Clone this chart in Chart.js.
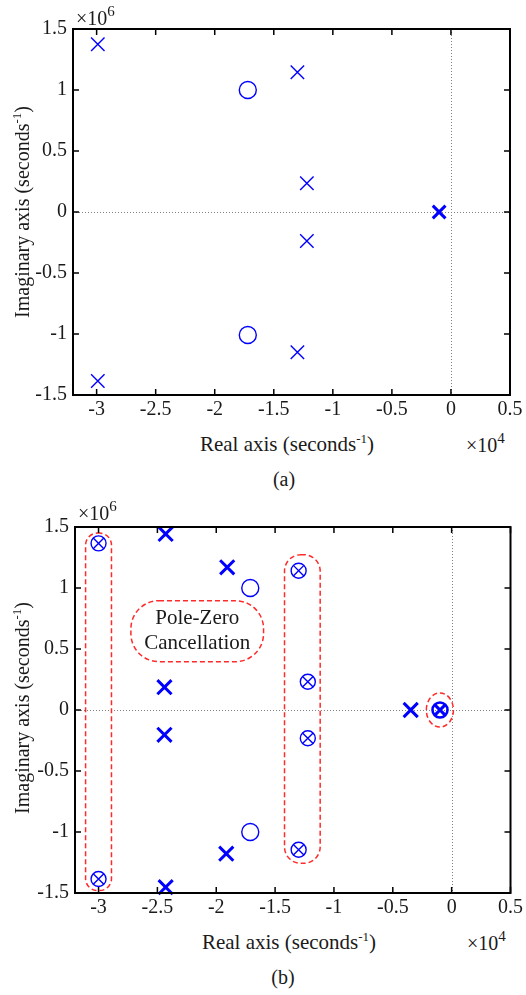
<!DOCTYPE html>
<html>
<head>
<meta charset="utf-8">
<script src="https://cdn.jsdelivr.net/npm/chart.js@4.4.0/dist/chart.umd.min.js"></script>
<style>
  body { margin: 0; background: #fff; width: 526px; height: 995px; position: relative; overflow: hidden;
         font-family: "Liberation Serif", "Times New Roman", serif; color: #1a1a1a; }
  canvas { position: absolute; left: 0; }
  .lbl { position: absolute; font-size: 20px; line-height: 20px; white-space: nowrap; transform: translate(-50%, -50%); }
  .lbl sup { font-size: 13px; vertical-align: 0; position: relative; top: -8px; }
  .xlab { font-size: 21px; }
  .exp { font-size: 20px; transform: none; }
  .exp sup { font-size: 15px; top: -9px; }
  .ylab { transform: translate(-50%, -50%) rotate(-90deg); }
</style>
</head>
<body>
<canvas id="chart-a" width="526" height="430" style="top:0"></canvas>
<canvas id="chart-b" width="526" height="430" style="top:495px"></canvas>

<div class="lbl exp" style="left:76px;top:8px">&times;10<sup>6</sup></div>
<div class="lbl ylab" style="left:23px;top:212px">Imaginary axis (seconds<sup>-1</sup>)</div>
<div class="lbl xlab" style="left:287px;top:445px">Real axis (seconds<sup>-1</sup>)</div>
<div class="lbl exp" style="left:466px;top:435px">&times;10<sup>4</sup></div>
<div class="lbl" style="left:284px;top:479px">(a)</div>

<div class="lbl exp" style="left:78px;top:503px">&times;10<sup>6</sup></div>
<div class="lbl ylab" style="left:23px;top:708px">Imaginary axis (seconds<sup>-1</sup>)</div>
<div class="lbl xlab" style="left:289px;top:943px">Real axis (seconds<sup>-1</sup>)</div>
<div class="lbl exp" style="left:467px;top:933px">&times;10<sup>4</sup></div>
<div class="lbl" style="left:283px;top:977px">(b)</div>

<script>
// x in units of 1e4 s^-1, y in units of 1e6 s^-1
const X_TICKS = [-3, -2.5, -2, -1.5, -1, -0.5, 0, 0.5];
const Y_TICKS = [-1.5, -1, -0.5, 0, 0.5, 1, 1.5];

// ── (a) original system ─────────────────────────────────────────────── //
const polesA = [[-2.99, 1.375], [-2.99, -1.385], [-1.30, 1.145], [-1.30, -1.15], [-1.22, 0.236], [-1.22, -0.238]];
const zerosA = [[-1.72, 1.0], [-1.72, -1.008]];
const originPoleA = [[-0.1, 0]];

// ── (b) compensated system ──────────────────────────────────────────── //
const cancelledB = [[-3.0, 1.366], [-3.0, -1.385], [-1.30, 1.142], [-1.30, -1.145], [-1.222, 0.232], [-1.222, -0.232]];
const polesB = [[-2.43, 1.443], [-2.43, -1.452], [-2.44, 0.187], [-2.44, -0.203], [-1.907, 1.17], [-1.915, -1.178], [-0.348, 0]];
const zerosB = [[-1.711, 1.0], [-1.711, -1.0]];
const originB = [[-0.099, 0]];

// red dashed groupings: [xMin, xMax, yMin, yMax]
const groupBoxes = [[-3.11, -2.89, -1.48, 1.45], [-1.42, -1.117, -1.257, 1.273]];
const labelBox = [-2.725, -1.598, 0.396, 0.896];
const labelLines = ['Pole-Zero', 'Cancellation'];
const originRing = [-0.1, 0, 0.115, 0.14]; // cx, cy, rx, ry

const BLUE = '#0000ff';
const RED = '#ff2a2a';
const FONT = '"Liberation Serif", "Times New Roman", serif';

function pts(arr) { return arr.map(function (p) { return { x: p[0], y: p[1] }; }); }

function marker(data, style, r, w) {
  return {
    data: pts(data), pointStyle: style, pointRadius: r, pointHoverRadius: r,
    borderColor: BLUE, backgroundColor: 'rgba(0,0,0,0)', pointBorderWidth: w, borderWidth: w,
    showLine: false, clip: false,
  };
}

// zero lines, box and inward tick marks like MATLAB
const frame = {
  id: 'frame',
  beforeDatasetsDraw(chart) {
    const { ctx, chartArea: a, scales: { x, y } } = chart;
    const x0 = Math.round(x.getPixelForValue(0)) + 0.5;
    const y0 = Math.round(y.getPixelForValue(0)) + 0.5;
    ctx.save();
    ctx.strokeStyle = '#808080';
    ctx.lineWidth = 1;
    ctx.setLineDash([1, 2]);
    ctx.beginPath();
    ctx.moveTo(x0, a.top); ctx.lineTo(x0, a.bottom);
    ctx.moveTo(a.left, y0); ctx.lineTo(a.right, y0);
    ctx.stroke();
    ctx.restore();
  },
  afterDraw(chart) {
    const { ctx, chartArea: a, scales: { x, y } } = chart;
    const len = 6;
    ctx.save();
    ctx.strokeStyle = '#000';
    ctx.lineWidth = 2;
    ctx.strokeRect(a.left, a.top, a.right - a.left, a.bottom - a.top);
    ctx.lineWidth = 1.5;
    ctx.beginPath();
    x.ticks.forEach(function (t) {
      const px = x.getPixelForValue(t.value);
      ctx.moveTo(px, a.bottom); ctx.lineTo(px, a.bottom - len);
      ctx.moveTo(px, a.top); ctx.lineTo(px, a.top + len);
    });
    y.ticks.forEach(function (t) {
      const py = y.getPixelForValue(t.value);
      ctx.moveTo(a.left, py); ctx.lineTo(a.left + len, py);
      ctx.moveTo(a.right, py); ctx.lineTo(a.right - len, py);
    });
    ctx.stroke();
    ctx.restore();
  },
};

// red dashed groupings for plot (b)
const groups = {
  id: 'groups',
  afterDatasetsDraw(chart) {
    const { ctx, scales: { x, y } } = chart;
    ctx.save();
    ctx.strokeStyle = RED;
    ctx.lineWidth = 1.5;
    ctx.setLineDash([5, 3]);
    function rbox(b) {
      const l = x.getPixelForValue(b[0]), r = x.getPixelForValue(b[1]);
      const t = y.getPixelForValue(b[3]), btm = y.getPixelForValue(b[2]);
      const rad = Math.min(r - l, btm - t) / 2 * 0.92;
      ctx.beginPath();
      ctx.roundRect(l, t, r - l, btm - t, rad);
      ctx.stroke();
      return [(l + r) / 2, (t + btm) / 2];
    }
    groupBoxes.forEach(rbox);
    const c = rbox(labelBox);
    ctx.beginPath();
    ctx.ellipse(x.getPixelForValue(originRing[0]), y.getPixelForValue(originRing[1]),
      x.getPixelForValue(originRing[0] + originRing[2]) - x.getPixelForValue(originRing[0]),
      y.getPixelForValue(originRing[1]) - y.getPixelForValue(originRing[1] + originRing[3]), 0, 0, Math.PI * 2);
    ctx.stroke();
    ctx.setLineDash([]);
    ctx.fillStyle = '#1a1a1a';
    ctx.font = '21px ' + FONT;
    ctx.textAlign = 'center';
    ctx.textBaseline = 'middle';
    ctx.fillText(labelLines[0], c[0], c[1] - 12.5);
    ctx.fillText(labelLines[1], c[0], c[1] + 12.5);
    ctx.restore();
  },
};

function makeOptions(pad, leftW, bottomH) {
  const tickFont = { family: FONT, size: 20 };
  const fmt = function (v) { return String(Math.round(v * 10) / 10); };
  return {
    responsive: false,
    animation: false,
    events: [],
    layout: { padding: pad },
    plugins: { legend: { display: false }, tooltip: { enabled: false } },
    scales: {
      x: {
        type: 'linear', min: -3.2, max: 0.5,
        afterBuildTicks: function (s) { s.ticks = X_TICKS.map(function (v) { return { value: v }; }); },
        afterFit: function (s) { s.height = bottomH; },
        grid: { display: false, drawTicks: false }, border: { display: false },
        ticks: { font: tickFont, color: '#1a1a1a', padding: 3, maxRotation: 0, autoSkip: false, callback: fmt },
      },
      y: {
        type: 'linear', min: -1.5, max: 1.5,
        afterBuildTicks: function (s) { s.ticks = Y_TICKS.map(function (v) { return { value: v }; }); },
        afterFit: function (s) { s.width = leftW; },
        grid: { display: false, drawTicks: false }, border: { display: false },
        ticks: { font: tickFont, color: '#1a1a1a', padding: 6, autoSkip: false, callback: fmt },
      },
    },
  };
}

new Chart(document.getElementById('chart-a').getContext('2d'), {
  type: 'scatter',
  data: {
    datasets: [
      marker(polesA, 'crossRot', 9.5, 1.4),
      marker(zerosA, 'circle', 8.5, 1.4),
      marker(originPoleA, 'crossRot', 9, 3),
    ],
  },
  options: makeOptions({ top: 29, right: 16, left: 0, bottom: 0 }, 73, 35),
  plugins: [frame],
});

new Chart(document.getElementById('chart-b').getContext('2d'), {
  type: 'scatter',
  data: {
    datasets: [
      marker(cancelledB, 'circle', 7.5, 1.4),
      marker(cancelledB, 'crossRot', 7.5, 1.4),
      marker(polesB, 'crossRot', 10, 3),
      marker(zerosB, 'circle', 8.5, 1.4),
      marker(originB, 'circle', 7.5, 2.6),
      marker(originB, 'crossRot', 8, 3),
    ],
  },
  options: makeOptions({ top: 32, right: 14, left: 0, bottom: 0 }, 75, 32),
  plugins: [frame, groups],
});
</script>
</body>
</html>
